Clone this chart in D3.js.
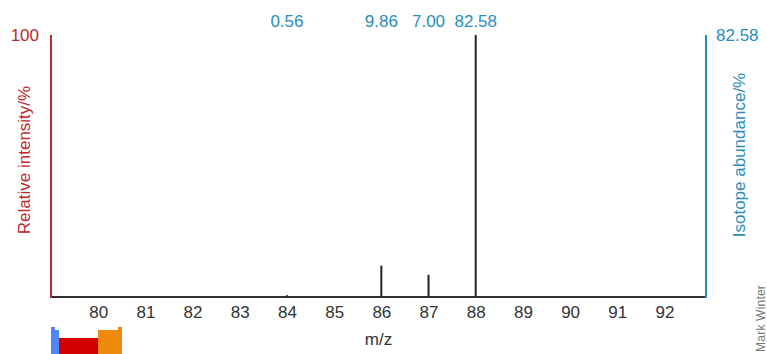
<!DOCTYPE html>
<html>
<head>
<meta charset="utf-8">
<script src="https://cdn.jsdelivr.net/npm/d3@7"></script>
<style>
  html, body { margin: 0; padding: 0; background: #fff; }
  svg { display: block; font-family: "Liberation Sans", Arial, sans-serif; }
</style>
</head>
<body>
<svg id="chart" width="767" height="354"></svg>
<script>
// Sr isotope pattern
const masses = [84, 86, 87, 88];
const abundance = ['0.56', '9.86', '7.00', '82.58'];
const intensity = [0.68, 11.94, 8.48, 100];
const xTicks = [80, 81, 82, 83, 84, 85, 86, 87, 88, 89, 90, 91, 92];

const RED = '#c0272d';
const BLUE = '#2a8cbd';
const INK = '#333';
const FS = 17;

const MARGINS = { top: 35, bottom: 57, left: 51, right: 61 };
const svg = d3.select('#chart');
const width = +svg.attr('width');
const height = +svg.attr('height');
const baseY = height - MARGINS.bottom;

const x = d3.scaleLinear().domain([79, 92.88]).range([MARGINS.left, width - MARGINS.right]);
const y = d3.scaleLinear().domain([0, 100]).range([baseY, MARGINS.top]);

// x axis: labels only, no ticks
const axisX = svg.append('g')
  .attr('transform', `translate(0, ${baseY})`)
  .call(d3.axisBottom(x).tickValues(xTicks).tickSize(0).tickPadding(9).tickFormat(d3.format('d')));
axisX.select('.domain').remove();
axisX.selectAll('text').attr('font-size', FS).attr('fill', INK)
  .attr('font-family', '"Liberation Sans", Arial, sans-serif');

svg.append('line')
  .attr('x1', x(79)).attr('x2', x(92.88))
  .attr('y1', baseY).attr('y2', baseY)
  .attr('stroke', INK).attr('stroke-width', 2);

// left axis (relative intensity)
svg.append('line')
  .attr('x1', x(79)).attr('x2', x(79))
  .attr('y1', y(0) + 1).attr('y2', y(100))
  .attr('stroke', RED).attr('stroke-width', 2);
svg.append('text')
  .attr('x', x(79) - 12).attr('y', y(100)).attr('dy', '0.38em')
  .attr('text-anchor', 'end').attr('font-size', FS).attr('fill', RED)
  .text('100');
svg.append('text')
  .attr('transform', 'translate(30, 160) rotate(-90)')
  .attr('text-anchor', 'middle').attr('font-size', FS).attr('fill', RED)
  .text('Relative intensity/%');

// right axis (isotope abundance)
svg.append('line')
  .attr('x1', x(92.88)).attr('x2', x(92.88))
  .attr('y1', y(0) + 1).attr('y2', y(100))
  .attr('stroke', BLUE).attr('stroke-width', 2);
svg.append('text')
  .attr('x', x(92.88) + 10).attr('y', y(100)).attr('dy', '0.38em')
  .attr('font-size', FS).attr('fill', BLUE)
  .text(abundance[abundance.length - 1]);
svg.append('text')
  .attr('transform', 'translate(745, 155) rotate(-90)')
  .attr('text-anchor', 'middle').attr('font-size', FS).attr('fill', BLUE)
  .text('Isotope abundance/%');

// peaks
svg.append('g').selectAll('line')
  .data(masses)
  .join('line')
  .attr('x1', d => x(d)).attr('x2', d => x(d))
  .attr('y1', y(0)).attr('y2', (d, i) => y(intensity[i]))
  .attr('stroke', '#222').attr('stroke-width', 2);

// abundance labels over peaks
svg.append('g').selectAll('text')
  .data(masses)
  .join('text')
  .attr('x', d => x(d)).attr('y', 27)
  .attr('text-anchor', 'middle').attr('font-size', FS).attr('fill', BLUE)
  .text((d, i) => abundance[i]);

svg.append('text')
  .attr('x', (x(79) + x(92.88)) / 2).attr('y', 345)
  .attr('text-anchor', 'middle').attr('font-size', FS).attr('fill', INK)
  .text('m/z');

// little periodic-table block marker
const blk = svg.append('g');
blk.append('path')
  .attr('d', 'M51,327 H55 V330 H59 V354 H51 Z').attr('fill', '#4f86f7');
blk.append('rect')
  .attr('x', 59).attr('y', 338).attr('width', 39).attr('height', 16).attr('fill', '#d40000');
blk.append('path')
  .attr('d', 'M98,330 H118 V327 H122 V354 H98 Z').attr('fill', '#ee8a0c');

// credit
svg.append('text')
  .attr('transform', 'translate(765, 285) rotate(-90)')
  .attr('text-anchor', 'end').attr('font-size', 12).attr('letter-spacing', 0.2)
  .attr('fill', '#777')
  .text('Mark Winter');
</script>
</body>
</html>
